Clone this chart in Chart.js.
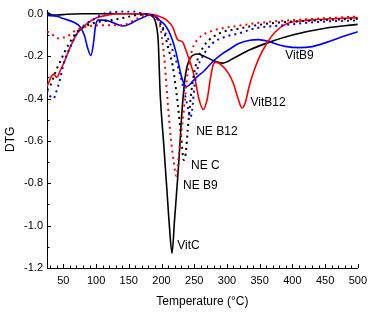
<!DOCTYPE html>
<html>
<head>
<meta charset="utf-8">
<script src="https://cdn.jsdelivr.net/npm/chart.js@4.4.1/dist/chart.umd.min.js"></script>
<style>
  html, body { margin: 0; padding: 0; background: #fff; }
  #wrap { width: 373px; height: 312px; }
</style>
</head>
<body>
<div id="wrap"><canvas id="myChart" width="373" height="312"></canvas></div>
<script>
// temperature (°C) and DTG values
const vitcT = [25, 28, 33, 40, 55, 80, 120, 160, 180, 186, 190, 193, 195, 198, 203, 208, 212, 216, 220, 226, 232, 237, 245, 255, 265, 280, 293, 310, 335, 364, 400, 450, 500];
const vitcY = [0.006, 0.002, -0.006, -0.006, -0.002, 0, 0, 0, -0.003, -0.012, -0.03, -0.07, -0.13, -0.38, -0.6, -0.82, -1.0, -1.13, -0.97, -0.72, -0.43, -0.28, -0.205, -0.19, -0.2, -0.222, -0.233, -0.21, -0.17, -0.135, -0.1, -0.068, -0.05];

const vitb9T = [25, 40, 51, 66, 75, 82, 87, 92, 96, 99, 103, 112, 122, 132, 142, 150, 160, 170, 182, 190, 197, 207, 215, 222, 230, 235, 238, 243, 250, 265, 277, 290, 305, 318, 335, 348, 363, 375, 389, 410, 430, 452, 475, 500];
const vitb9Y = [-0.008, -0.012, -0.024, -0.04, -0.06, -0.1, -0.16, -0.197, -0.14, -0.06, -0.03, -0.03, -0.037, -0.05, -0.058, -0.05, -0.034, -0.02, -0.006, -0.012, -0.03, -0.06, -0.11, -0.18, -0.29, -0.335, -0.343, -0.335, -0.31, -0.27, -0.23, -0.195, -0.165, -0.14, -0.125, -0.122, -0.13, -0.143, -0.154, -0.16, -0.155, -0.135, -0.11, -0.085];

const vitb12T = [25, 31, 35, 40, 45, 51, 61, 71, 86, 100, 115, 132, 172, 193, 208, 217, 225, 232, 237, 245, 252, 257, 264, 270, 275, 279, 283, 293, 303, 310, 316, 323, 328, 333, 338, 348, 361, 374, 391, 410, 437, 470, 500];
const vitb12Y = [-0.345, -0.3, -0.285, -0.3, -0.27, -0.23, -0.154, -0.093, -0.047, -0.02, -0.008, 0, 0, -0.008, -0.03, -0.062, -0.123, -0.132, -0.17, -0.24, -0.32, -0.4, -0.452, -0.4, -0.3, -0.24, -0.228, -0.246, -0.285, -0.33, -0.39, -0.445, -0.42, -0.355, -0.3, -0.215, -0.139, -0.085, -0.047, -0.035, -0.027, -0.022, -0.018];

const neCT = [25, 30, 35, 40, 46, 52, 59, 71, 86, 102, 122, 147, 167, 182, 190, 198, 205, 211, 217, 221, 225, 230, 234, 237, 240, 245, 250, 257, 268, 288, 318, 361, 437, 500];
const neCY = [-0.36, -0.34, -0.3, -0.26, -0.22, -0.18, -0.14, -0.085, -0.055, -0.039, -0.031, -0.016, -0.004, -0.004, -0.012, -0.047, -0.1, -0.17, -0.245, -0.33, -0.43, -0.58, -0.69, -0.66, -0.55, -0.384, -0.277, -0.2, -0.139, -0.093, -0.07, -0.047, -0.031, -0.024];

const neB9T = [25, 30, 36, 41, 48, 56, 63, 71, 80, 90, 100, 122, 142, 152, 162, 172, 182, 190, 197, 204, 209, 214, 219, 223, 227, 231, 235, 240, 247, 257, 278, 310, 361, 411, 500];
const neB9Y = [-0.085, -0.09, -0.105, -0.116, -0.113, -0.108, -0.09, -0.076, -0.065, -0.058, -0.055, -0.054, -0.054, -0.04, -0.024, -0.01, -0.004, -0.015, -0.047, -0.2, -0.4, -0.58, -0.705, -0.766, -0.65, -0.54, -0.43, -0.277, -0.169, -0.116, -0.08, -0.06, -0.039, -0.028, -0.013];

const neB12T = [25, 30, 35, 39, 44, 51, 61, 71, 82, 97, 112, 127, 142, 157, 172, 187, 195, 205, 213, 220, 227, 235, 240, 244, 247, 250, 255, 263, 278, 298, 318, 341, 386, 437, 500];
const neB12Y = [-0.36, -0.39, -0.4, -0.37, -0.32, -0.23, -0.154, -0.093, -0.054, -0.024, 0, 0.008, 0.011, 0.011, 0, -0.008, -0.024, -0.085, -0.139, -0.2, -0.27, -0.37, -0.44, -0.49, -0.45, -0.353, -0.26, -0.2, -0.139, -0.108, -0.093, -0.07, -0.054, -0.039, -0.031];

const xTickLabels = [50, 100, 150, 200, 250, 300, 350, 400, 450, 500];
const yTickLabels = [0, -0.2, -0.4, -0.6, -0.8, -1.0, -1.2];

// curve names placed next to the curves (data coordinates of the text's left-middle)
const curveLabels = [
  { text: "VitB9", x: 389, y: -0.2 },
  { text: "VitB12", x: 336, y: -0.42 },
  { text: "NE B12", x: 253, y: -0.558 },
  { text: "NE C", x: 245, y: -0.717 },
  { text: "NE B9", x: 233, y: -0.813 },
  { text: "VitC", x: 224, y: -1.097 },
];

const toPoints = (ts, ys) => ts.map((t, i) => ({ x: t, y: ys[i] }));

const FONT = "'Liberation Sans', Arial, sans-serif";

const line = (label, ts, ys, color, dotted) => ({
  label,
  data: toPoints(ts, ys),
  borderColor: color,
  backgroundColor: color,
  borderWidth: dotted ? 2 : 1.6,
  borderDash: dotted ? [2, 4] : [],
  pointRadius: 0,
  cubicInterpolationMode: "monotone",
  fill: false,
});

// ticks drawn inward, like the original, plus the curve names
const insideTicks = {
  id: "insideTicks",
  afterDraw(chart) {
    const { ctx, chartArea, scales } = chart;
    const x = scales.x, y = scales.y;
    ctx.save();
    ctx.strokeStyle = "#000";
    ctx.lineWidth = 1;
    ctx.beginPath();
    for (let t = 30; t <= 500; t += 10) {
      const px = Math.round(x.getPixelForValue(t)) + 0.5;
      const len = t % 50 === 0 ? 4 : 2.5;
      ctx.moveTo(px, chartArea.bottom);
      ctx.lineTo(px, chartArea.bottom - len);
    }
    for (let k = 0; k <= 12; k++) {
      const v = -k / 10;
      const py = Math.round(y.getPixelForValue(v)) + 0.5;
      const len = k % 2 === 0 ? 4 : 2.5;
      ctx.moveTo(chartArea.left, py);
      ctx.lineTo(chartArea.left + len, py);
    }
    ctx.stroke();

    ctx.fillStyle = "#000";
    ctx.font = "12px " + FONT;
    ctx.textAlign = "left";
    ctx.textBaseline = "middle";
    curveLabels.forEach(l => {
      ctx.fillText(l.text, x.getPixelForValue(l.x), y.getPixelForValue(l.y));
    });
    ctx.restore();
  },
};

const ctx = document.getElementById("myChart");
new Chart(ctx, {
  type: "line",
  data: {
    datasets: [
      line("NE B9", neB9T, neB9Y, "#ff0000", true),
      line("NE B12", neB12T, neB12Y, "#0000ff", true),
      line("NE C", neCT, neCY, "#000000", true),
      line("VitB12", vitb12T, vitb12Y, "#ff0000", false),
      line("VitB9", vitb9T, vitb9Y, "#0000ff", false),
      line("VitC", vitcT, vitcY, "#000000", false),
    ],
  },
  options: {
    responsive: false,
    animation: false,
    layout: { padding: { top: 3, right: 13, left: 0, bottom: 0 } },
    plugins: {
      legend: { display: false },
      tooltip: { enabled: false },
    },
    scales: {
      x: {
        type: "linear",
        min: 25,
        max: 500,
        grid: { display: false, drawTicks: false },
        border: { display: true, color: "#000", width: 1 },
        afterBuildTicks: (scale) => {
          scale.ticks = xTickLabels.map(v => ({ value: v }));
        },
        afterFit: (scale) => { scale.height = 44; },
        ticks: {
          color: "#000",
          font: { family: FONT, size: 11 },
          padding: 6,
          autoSkip: false,
          maxRotation: 0,
          callback: (v) => String(v),
        },
        title: {
          display: true,
          text: "Temperature (°C)",
          color: "#000",
          font: { family: FONT, size: 12 },
          padding: { top: 0, bottom: 3 },
        },
      },
      y: {
        type: "linear",
        min: -1.2,
        max: 0.015,
        grid: { display: false, drawTicks: false },
        border: { display: true, color: "#000", width: 1 },
        afterBuildTicks: (scale) => {
          scale.ticks = yTickLabels.map(v => ({ value: v }));
        },
        afterFit: (scale) => { scale.width = 47; },
        ticks: {
          color: "#000",
          font: { family: FONT, size: 11 },
          padding: 4,
          autoSkip: false,
          callback: (v) => v.toFixed(1),
        },
        title: {
          display: true,
          text: "DTG",
          color: "#000",
          font: { family: FONT, size: 12 },
          padding: { top: 3, bottom: 0 },
        },
      },
    },
  },
  plugins: [insideTicks],
});
</script>
</body>
</html>
